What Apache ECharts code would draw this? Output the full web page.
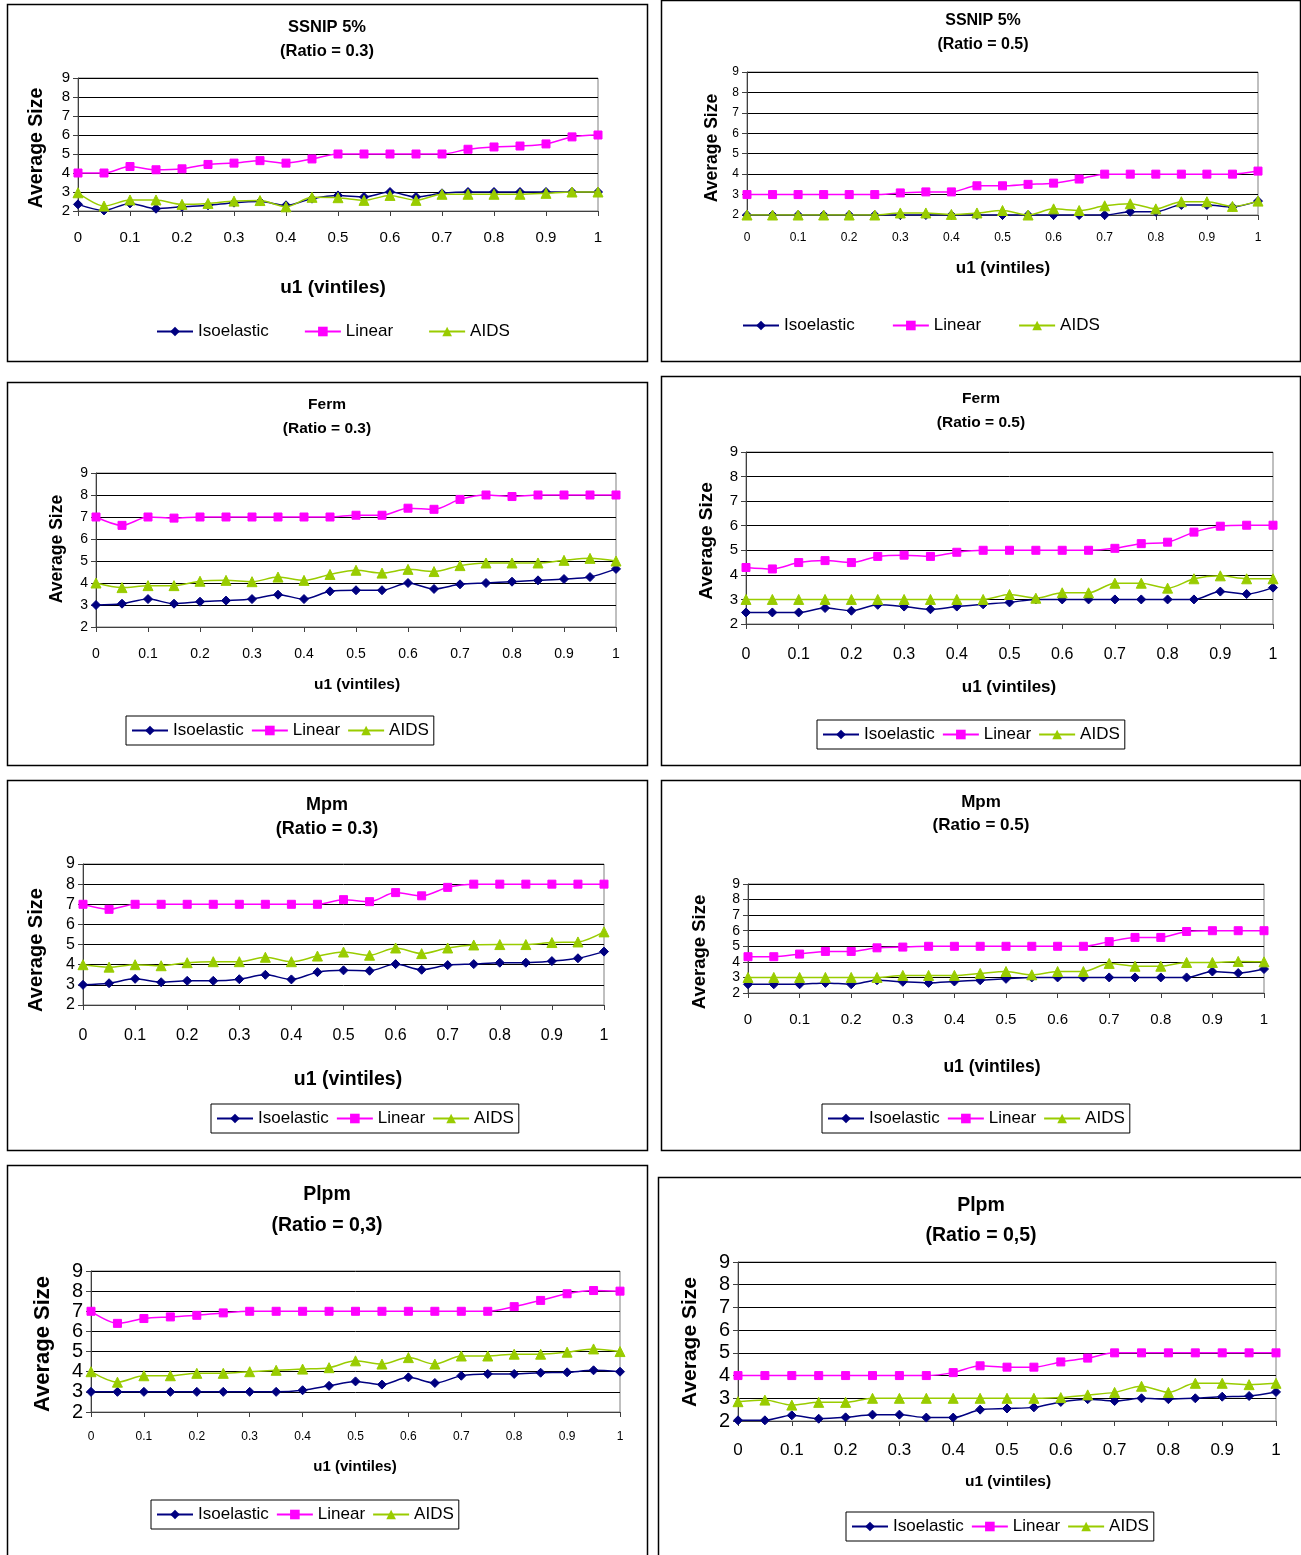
<!DOCTYPE html>
<html>
<head>
<meta charset="utf-8">
<script src="https://cdn.jsdelivr.net/npm/echarts@6/dist/echarts.min.js"></script>
<style>
html,body{margin:0;padding:0;background:#fff;}
#c{width:1301px;height:1555px;}
</style>
</head>
<body>
<div id="c"></div>
<script>
// ---- data ----
const xs = [0,0.05,0.1,0.15,0.2,0.25,0.3,0.35,0.4,0.45,0.5,0.55,0.6,0.65,0.7,0.75,0.8,0.85,0.9,0.95,1];
const seriesNames = ['Isoelastic','Linear','AIDS'];

const ssnip03_iso  = [2.35,2.03,2.4,2.12,2.22,2.3,2.44,2.5,2.3,2.65,2.82,2.74,3,2.74,2.93,3,3,3,3,3,3];
const ssnip03_lin  = [4,4,4.34,4.17,4.22,4.45,4.52,4.65,4.52,4.74,5,5,5,5,5,5.25,5.37,5.42,5.53,5.9,6];
const ssnip03_aids = [2.96,2.26,2.58,2.58,2.35,2.4,2.52,2.55,2.22,2.72,2.7,2.56,2.82,2.56,2.88,2.88,2.88,2.88,2.93,3,3];

const ssnip05_iso  = [2,2,2,2,2,2,2,2,2,2,2,2,2,2,2,2.16,2.16,2.49,2.49,2.4,2.68];
const ssnip05_lin  = [3,3,3,3,3,3,3.08,3.13,3.13,3.43,3.43,3.5,3.56,3.76,4,4,4,4,4,4,4.15];
const ssnip05_aids = [2,2,2,2,2,2,2.1,2.1,2.03,2.1,2.22,2,2.3,2.22,2.45,2.55,2.3,2.65,2.65,2.42,2.68];

const ferm03_iso  = [3,3.06,3.27,3.06,3.15,3.2,3.27,3.47,3.27,3.62,3.67,3.67,4,3.73,3.94,4,4.06,4.12,4.18,4.27,4.64];
const ferm03_lin  = [7,6.62,7,6.95,7,7,7,7,7,7,7.08,7.08,7.4,7.35,7.8,8,7.93,8,8,8,8];
const ferm03_aids = [4,3.79,3.88,3.88,4.08,4.12,4.06,4.27,4.12,4.39,4.58,4.45,4.62,4.52,4.79,4.91,4.91,4.91,5.03,5.12,5];

const ferm05_iso  = [2.47,2.47,2.47,2.65,2.54,2.78,2.71,2.6,2.71,2.8,2.88,3,3,3,3,3,3,3,3.32,3.22,3.48];
const ferm05_lin  = [4.3,4.24,4.5,4.58,4.5,4.75,4.8,4.75,4.92,5,5,5,5,5,5.08,5.27,5.33,5.74,5.98,6.02,6.02];
const ferm05_aids = [3,3,3,3,3,3,3,3,3,3,3.2,3.05,3.27,3.27,3.66,3.66,3.46,3.84,3.96,3.84,3.84];

const mpm03_iso  = [3,3.08,3.3,3.13,3.2,3.2,3.28,3.5,3.27,3.63,3.72,3.7,4.03,3.75,3.98,4.03,4.1,4.1,4.18,4.32,4.65];
const mpm03_lin  = [7,6.75,7,7,7,7,7,7,7,7,7.23,7.13,7.58,7.42,7.84,8,8,8,8,8,8];
const mpm03_aids = [4,3.88,4,3.95,4.1,4.15,4.15,4.37,4.15,4.43,4.63,4.47,4.83,4.55,4.83,4.98,5,5,5.1,5.13,5.63];

const mpm05_iso  = [2.56,2.56,2.56,2.65,2.56,2.82,2.72,2.65,2.74,2.82,2.91,3,3,3,3,3,3,3,3.38,3.28,3.54];
const mpm05_lin  = [4.33,4.33,4.5,4.67,4.67,4.9,4.95,5,5,5,5,5,5,5,5.3,5.57,5.57,5.95,6,6,6];
const mpm05_aids = [3,3,3,3,3,3,3.13,3.13,3.13,3.26,3.38,3.17,3.38,3.38,3.9,3.72,3.72,3.96,3.96,4.03,4];

const plpm03_iso  = [3,3,3,3,3,3,3,3,3.08,3.3,3.52,3.36,3.72,3.44,3.8,3.89,3.89,3.95,3.97,4.07,4];
const plpm03_lin  = [7,6.4,6.64,6.72,6.8,6.92,7,7,7,7,7,7,7,7,7,7,7.23,7.54,7.87,8.03,8];
const plpm03_aids = [4,3.48,3.8,3.8,3.92,3.92,4,4.07,4.13,4.2,4.54,4.38,4.7,4.38,4.78,4.78,4.87,4.87,4.97,5.13,5];

const plpm05_iso  = [2.03,2.03,2.25,2.1,2.16,2.28,2.28,2.15,2.15,2.5,2.55,2.6,2.84,2.96,2.88,3,2.96,3,3.07,3.1,3.28];
const plpm05_lin  = [4,4,4,4,4,4,4,4,4.13,4.43,4.37,4.37,4.6,4.77,5,5,5,5,5,5,5];
const plpm05_aids = [2.85,2.92,2.7,2.82,2.82,3,3,3,3,3,3,3,3.03,3.15,3.26,3.53,3.26,3.66,3.66,3.6,3.66];

const titles = ['SSNIP 5%\n(Ratio = 0.3)','SSNIP 5%\n(Ratio = 0.5)','Ferm\n(Ratio = 0.3)','Ferm\n(Ratio = 0.5)',
                'Mpm\n(Ratio = 0.3)','Mpm\n(Ratio = 0.5)','Plpm\n(Ratio = 0,3)','Plpm\n(Ratio = 0,5)'];
const yAxisName = 'Average Size';
const xAxisName = 'u1 (vintiles)';

const panelData = [
  [ssnip03_iso, ssnip03_lin, ssnip03_aids],
  [ssnip05_iso, ssnip05_lin, ssnip05_aids],
  [ferm03_iso, ferm03_lin, ferm03_aids],
  [ferm05_iso, ferm05_lin, ferm05_aids],
  [mpm03_iso, mpm03_lin, mpm03_aids],
  [mpm05_iso, mpm05_lin, mpm05_aids],
  [plpm03_iso, plpm03_lin, plpm03_aids],
  [plpm05_iso, plpm05_lin, plpm05_aids]
];

// ---- layout / style ----
const FONT = 'Arial, "Liberation Sans", Helvetica, sans-serif';
const colors = ['#000080', '#FF00FF', '#99CC00'];
const symbols = ['diamond', 'rect', 'triangle'];
const symSizes = [9, 8, 10];

// box: [x,y,w,h]; plot: [left,top,right,bottom]; yn/xn: name centre [x,y]
const layout = [
  {box:[7,4,640,357],   plot:[78,78,598,211],   tx:327, ty:15,  tFs:16.5, tLh:24, ylFs:15, xlFs:15, xlM:19, yNFs:19.5, yn:[37,148],  xNFs:19, xn:[333,288],  lg:{left:156,top:323,boxed:false,gap:35}},
  {box:[661,0,639,361], plot:[747,72,1258,215], tx:983, ty:9,   tFs:16,   tLh:24, ylFs:12, xlFs:12, xlM:17, yNFs:17.5, yn:[712,148], xNFs:17, xn:[1003,268], lg:{left:742,top:317,boxed:false,gap:37}},
  {box:[7,382,640,383], plot:[96,473,616,627],  tx:327, ty:393, tFs:15.5, tLh:24, ylFs:14, xlFs:14, xlM:20, yNFs:17.5, yn:[57,549],  xNFs:15.5, xn:[357,685], lg:{left:126,top:716,boxed:true,gap:7}},
  {box:[661,376,639,389],plot:[746,452,1273,624],tx:981, ty:387, tFs:15.5, tLh:24, ylFs:15, xlFs:16, xlM:23, yNFs:19, yn:[707,541],  xNFs:17, xn:[1009,687], lg:{left:817,top:720,boxed:true,gap:7}},
  {box:[7,780,640,370], plot:[83,864,604,1005], tx:327, ty:793, tFs:18,   tLh:24, ylFs:16, xlFs:16, xlM:23, yNFs:20, yn:[36,950],    xNFs:19.5, xn:[348,1080], lg:{left:211,top:1104,boxed:true,gap:7}},
  {box:[661,780,639,370],plot:[748,884,1264,993],tx:981, ty:791, tFs:17,   tLh:23, ylFs:14, xlFs:15, xlM:19, yNFs:18.5, yn:[700,952], xNFs:17.5, xn:[992,1067], lg:{left:822,top:1104,boxed:true,gap:7}},
  {box:[7,1165,640,395],plot:[91,1271,620,1412],tx:327, ty:1179, tFs:19.5, tLh:31, ylFs:20, xlFs:12, xlM:19, yNFs:22, yn:[43,1344],   xNFs:15, xn:[355,1467], lg:{left:151,top:1500,boxed:true,gap:7}},
  {box:[658,1177,645,390],plot:[738,1262,1276,1421],tx:981, ty:1191, tFs:19.5, tLh:30, ylFs:20, xlFs:17, xlM:21, yNFs:21, yn:[690,1342], xNFs:15.5, xn:[1008,1482], lg:{left:846,top:1512,boxed:true,gap:7}}
];

const W = 1301, H = 1555;
const option = {
  backgroundColor: '#ffffff',
  animation: false,
  title: [], grid: [], xAxis: [], yAxis: [], legend: [], series: [],
  graphic: []
};

layout.forEach((L, i) => {
  option.graphic.push({
    type: 'rect', silent: true, z: -1,
    shape: {x: L.box[0] + 0.5, y: L.box[1] + 0.5, width: L.box[2], height: L.box[3]},
    style: {fill: 'none', stroke: '#000', lineWidth: 1.5}
  });
  // axis titles
  option.graphic.push({
    type: 'text', silent: true, x: L.yn[0], y: L.yn[1], rotation: Math.PI / 2,
    style: {text: yAxisName, fontFamily: FONT, fontSize: L.yNFs, fontWeight: 'bold', fill: '#000',
            align: 'center', verticalAlign: 'middle'}
  });
  option.graphic.push({
    type: 'text', silent: true, x: L.xn[0], y: L.xn[1],
    style: {text: xAxisName, fontFamily: FONT, fontSize: L.xNFs, fontWeight: 'bold', fill: '#000',
            align: 'center', verticalAlign: 'middle'}
  });
  option.title.push({
    text: titles[i], left: L.tx, top: L.ty, textAlign: 'center', padding: 0,
    textStyle: {fontFamily: FONT, fontSize: L.tFs, fontWeight: 'bold', color: '#000', lineHeight: L.tLh}
  });
  option.grid.push({
    left: L.plot[0], top: L.plot[1], width: L.plot[2] - L.plot[0], height: L.plot[3] - L.plot[1],
    show: true, borderColor: '#808080', borderWidth: 1, backgroundColor: 'transparent'
  });
  option.xAxis.push({
    type: 'value', gridIndex: i, min: 0, max: 1, interval: 0.1,
    axisLine: {show: true, lineStyle: {color: '#404040', width: 1}},
    axisTick: {show: true, length: 5, inside: false, lineStyle: {color: '#404040'}},
    axisLabel: {fontFamily: FONT, fontSize: L.xlFs, color: '#000', margin: L.xlM},
    splitLine: {show: false}
  });
  option.yAxis.push({
    type: 'value', gridIndex: i, min: 2, max: 9, interval: 1,
    axisLine: {show: true, lineStyle: {color: '#404040', width: 1}},
    axisTick: {show: true, length: 5, lineStyle: {color: '#404040'}},
    axisLabel: {fontFamily: FONT, fontSize: L.ylFs, color: '#000', margin: 8},
    splitLine: {show: true, lineStyle: {color: '#000', width: 1}}
  });
  const lg = L.lg;
  option.legend.push({
    data: seriesNames, left: lg.left, top: lg.top, orient: 'horizontal',
    itemWidth: 36, itemHeight: 12, itemGap: lg.gap, selectedMode: false,
    padding: lg.boxed ? [6, 5, 6, 5] : 0,
    borderColor: lg.boxed ? '#000' : 'transparent', borderWidth: lg.boxed ? 1 : 0,
    textStyle: {fontFamily: FONT, fontSize: 17, color: '#000'}
  });
  panelData[i].forEach((vals, k) => {
    option.series.push({
      name: seriesNames[k], type: 'line', xAxisIndex: i, yAxisIndex: i,
      data: xs.map((x, j) => [x, vals[j]]),
      smooth: 0.3, symbol: symbols[k], symbolSize: symSizes[k], showSymbol: true,
      lineStyle: {color: colors[k], width: 1.5},
      itemStyle: {color: colors[k], borderColor: colors[k]},
      z: 3 + k
    });
  });
});

const chart = echarts.init(document.getElementById('c'), null, {renderer: 'canvas', width: W, height: H});
chart.setOption(option);
</script>
</body>
</html>
